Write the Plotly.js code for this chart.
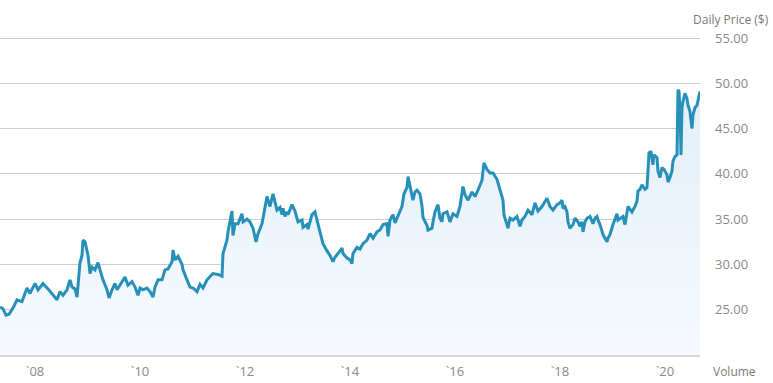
<!DOCTYPE html>
<html>
<head>
<meta charset="utf-8">
<script src="https://cdn.plot.ly/plotly-3.0.1.min.js"></script>
<style>html,body{margin:0;padding:0;background:#fff;}#chart{width:773px;height:383px;}</style>
</head>
<body>
<div id="chart"></div>
<script>
// Time in decimal years, daily price in $
const years = [
2007.333,2007.390,2007.448,2007.505,2007.581,2007.657,2007.752,2007.847,2007.904,2008.000,
2008.057,2008.152,2008.248,2008.343,2008.419,2008.476,2008.533,2008.610,2008.667,2008.705,
2008.762,2008.800,2008.819,2008.857,2008.895,2008.914,2008.952,2008.990,2009.010,2009.048,
2009.086,2009.143,2009.200,2009.238,2009.295,2009.371,2009.410,2009.467,2009.524,2009.562,
2009.619,2009.714,2009.771,2009.848,2009.905,2009.962,2010.000,2010.057,2010.133,2010.190,
2010.248,2010.286,2010.343,2010.419,2010.476,2010.533,2010.610,2010.629,2010.667,2010.724,
2010.800,2010.819,2010.895,2010.952,2011.010,2011.086,2011.143,2011.200,2011.276,2011.333,
2011.390,2011.486,2011.562,2011.581,2011.619,2011.657,2011.676,2011.714,2011.752,2011.771,
2011.810,2011.867,2011.905,2011.943,2011.962,2012.038,2012.095,2012.152,2012.210,2012.248,
2012.324,2012.381,2012.419,2012.476,2012.533,2012.610,2012.667,2012.705,2012.724,2012.762,
2012.800,2012.819,2012.895,2012.952,2013.010,2013.086,2013.105,2013.181,2013.200,2013.276,
2013.333,2013.371,2013.429,2013.486,2013.562,2013.619,2013.676,2013.714,2013.771,2013.848,
2013.867,2013.943,2014.000,2014.038,2014.057,2014.133,2014.190,2014.248,2014.324,2014.381,
2014.438,2014.514,2014.571,2014.629,2014.705,2014.724,2014.762,2014.819,2014.857,2014.914,
2014.990,2015.029,2015.086,2015.105,2015.143,2015.181,2015.200,2015.238,2015.276,2015.333,
2015.371,2015.390,2015.429,2015.467,2015.486,2015.562,2015.581,2015.619,2015.676,2015.714,
2015.752,2015.771,2015.848,2015.905,2015.962,2016.038,2016.095,2016.152,2016.190,2016.248,
2016.324,2016.381,2016.438,2016.514,2016.552,2016.610,2016.667,2016.724,2016.800,2016.857,
2016.914,2016.933,2016.971,2017.010,2017.048,2017.105,2017.181,2017.238,2017.276,2017.333,
2017.390,2017.467,2017.524,2017.581,2017.657,2017.714,2017.752,2017.810,2017.867,2017.943,
2018.000,2018.038,2018.057,2018.095,2018.133,2018.152,2018.190,2018.248,2018.286,2018.343,
2018.381,2018.419,2018.438,2018.476,2018.514,2018.571,2018.629,2018.667,2018.705,2018.724,
2018.762,2018.819,2018.857,2018.895,2018.914,2018.952,2019.010,2019.048,2019.086,2019.105,
2019.143,2019.200,2019.238,2019.276,2019.295,2019.371,2019.429,2019.467,2019.486,2019.524,
2019.562,2019.619,2019.657,2019.676,2019.695,2019.733,2019.771,2019.790,2019.848,2019.867,
2019.905,2019.943,2019.981,2020.038,2020.057,2020.095,2020.133,2020.152,2020.190,2020.229,
2020.248,2020.267,2020.286,2020.305,2020.324,2020.343,2020.381,2020.419,2020.438,2020.476,
2020.514,2020.533,2020.571,2020.610,2020.629,2020.667
];
const prices = [
25.3,25.1,24.4,24.5,25.2,26.1,25.9,27.4,26.8,27.9,
27.2,27.9,27.3,26.6,26.1,27.0,26.6,27.2,28.3,27.5,
27.3,26.4,27.5,30.2,31.0,32.7,32.5,31.2,31.0,29.0,
29.7,29.4,30.2,29.4,28.3,27.2,26.3,27.2,27.9,27.2,
27.7,28.6,27.7,28.1,27.5,26.6,27.4,27.2,27.4,27.0,
26.4,27.5,28.3,28.3,29.4,29.5,30.3,31.6,30.5,30.9,
30.0,29.4,28.3,27.5,27.4,27.0,27.8,27.4,28.3,28.7,
29.0,28.9,28.7,31.2,32.0,32.7,33.6,34.7,35.9,33.2,
34.5,34.5,35.0,35.6,34.7,35.0,34.7,34.0,32.5,33.4,
34.5,36.4,37.5,36.4,37.8,36.0,36.3,35.5,36.2,35.3,
35.8,35.5,36.6,35.9,34.7,34.9,34.1,34.4,33.9,35.5,
35.8,34.9,33.5,32.3,31.5,31.0,30.3,30.8,31.2,31.8,
31.2,30.7,30.5,30.1,31.2,31.9,31.7,32.3,32.7,33.4,
32.9,33.6,33.8,34.4,34.5,33.1,34.9,35.5,34.6,35.3,
36.4,37.8,38.5,39.7,38.5,37.4,37.1,38.0,38.2,37.8,
36.5,35.2,34.7,34.3,33.8,34.0,34.7,35.8,36.6,35.1,
34.7,35.6,35.8,34.7,35.6,35.3,36.4,38.6,37.7,37.1,
38.0,37.5,38.2,39.3,41.2,40.5,40.1,40.1,39.4,38.2,
37.1,35.5,34.7,34.0,35.1,34.9,35.3,34.2,34.9,35.3,
36.0,35.5,36.8,35.9,36.4,37.0,37.3,36.4,36.0,36.6,
36.8,37.1,36.2,36.4,35.8,34.7,34.0,34.4,35.1,34.7,
34.2,34.7,33.6,34.7,35.1,35.3,34.5,35.1,35.3,34.9,
34.4,33.3,32.9,32.5,32.9,33.3,34.4,35.1,35.6,34.9,
35.1,35.3,34.4,35.5,36.4,35.8,36.4,37.0,38.1,38.3,
38.8,38.3,38.5,40.3,42.3,42.5,41.0,42.1,41.8,40.3,
39.6,40.7,40.5,39.9,39.1,39.6,40.3,41.4,41.9,42.1,
49.3,49.1,47.3,42.1,47.3,48.0,48.9,48.3,47.6,46.9,
45.0,46.5,47.3,47.6,48.2,49.1
];
const xTickVals = [2008,2010,2012,2014,2016,2018,2020];
const xTickText = ['`08','`10','`12','`14','`16','`18','`20'];
const yTickVals = [25,30,35,40,45,50,55];

const trace = {
  x: years, y: prices, type: 'scatter', mode: 'lines',
  line: {color: '#2690b9', width: 3},
  fill: 'tozeroy',
  fillgradient: {type: 'vertical', start: 20, stop: 50,
    colorscale: [[0, 'rgb(246,250,254)'], [1, 'rgb(226,238,248)']]},
  hoverinfo: 'skip'
};

const layout = {
  width: 773, height: 383,
  margin: {l: 0, r: 73, t: 29, b: 28},
  paper_bgcolor: '#fff', plot_bgcolor: '#fff',
  showlegend: false,
  font: {family: 'Open Sans, sans-serif', color: '#8a8a8a', size: 13},
  xaxis: {
    range: [2007.333, 2020.667],
    tickvals: xTickVals, ticktext: xTickText,
    showgrid: false, zeroline: false,
    showline: true, linecolor: '#d6d6d6', linewidth: 2,
    ticks: '', ticklabelstandoff: 3,
    tickfont: {size: 13, color: '#8a8a8a'}
  },
  yaxis: {
    range: [20, 56], side: 'right',
    tickvals: yTickVals, tickformat: '.2f',
    showgrid: true, gridcolor: '#cdcdcd', gridwidth: 1,
    zeroline: false, showline: false,
    ticks: '', ticklabelstandoff: 14,
    tickfont: {size: 13, color: '#8a8a8a'}
  },
  annotations: [
    {text: 'Daily Price ($)', xref: 'paper', yref: 'paper', x: 1.0, y: 1, xshift: 71, yshift: 10,
     xanchor: 'right', yanchor: 'middle', showarrow: false, font: {size: 12, color: '#7a7a7a'}},
    {text: 'Volume', xref: 'paper', yref: 'paper', x: 1.0, y: 0, xshift: 58, yshift: -16,
     xanchor: 'right', yanchor: 'middle', showarrow: false, font: {size: 12, color: '#7a7a7a'}}
  ]
};

Plotly.newPlot('chart', [trace], layout, {displayModeBar: false, staticPlot: true});
</script>
</body>
</html>
